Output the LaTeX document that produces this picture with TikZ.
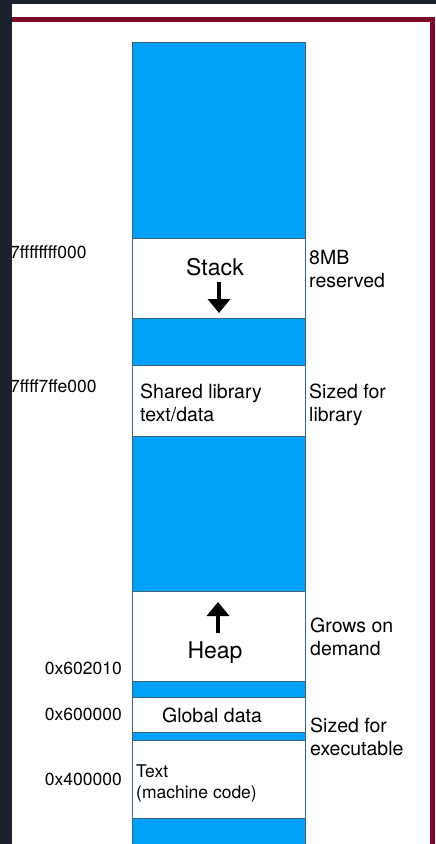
\documentclass[tikz,border=0pt]{standalone}
\usepackage{fontspec}
\setmainfont{TeX Gyre Heros}
\usepackage{tikz}
\usetikzlibrary{arrows.meta,positioning}
\definecolor{memblue}{RGB}{0,161,247}
\definecolor{bandline}{RGB}{62,100,128}
\definecolor{screen}{RGB}{28,33,46}
\definecolor{framered}{RGB}{124,10,38}
\tikzset{
  free/.style={fill=memblue,draw=bandline,line width=.8pt},
  used/.style={fill=white,draw=bandline,line width=.8pt},
  growarrow/.style={line width=4.5pt,-{Triangle[width=22pt,length=14pt]}},
  addr/.style={anchor=base east,inner sep=0pt,font=\fontsize{17.5}{21}\selectfont},
  note/.style={anchor=base west,inner sep=0pt,align=left,font=\fontsize{19.5}{23}\selectfont},
  seg/.style={anchor=base,inner sep=0pt,font=\fontsize{23}{27}\selectfont}
}
\begin{document}
\begin{tikzpicture}[x=1pt,y=-1pt]
      \useasboundingbox (0,0) rectangle (436,844);
      \clip (0,0) rectangle (436,844);
      \fill[screen] (0,0) rectangle (436,844);
      \fill[white] (12,4) rectangle (436,844);
      \draw[framered,line width=5pt] (12,19.5) -- (432.5,19.5) -- (432.5,850);

      \draw[free] (132,42) rectangle (305,238);
      \draw[used] (132,238) rectangle (305,318);
      \draw[free] (132,318) rectangle (305,365);
      \draw[used] (132,365) rectangle (305,436);
      \draw[free] (132,436) rectangle (305,591);
      \draw[used] (132,591) rectangle (305,681);
      \draw[free] (132,681) rectangle (305,697);
      \draw[used] (132,697) rectangle (305,732);
      \draw[free] (132,732) rectangle (305,740);
      \draw[used] (132,740) rectangle (305,818);
      \draw[free] (132,818) rectangle (305,850);

      \node[seg] (stack) at (215,275) {Stack};
      \coordinate (stacktail) at (219,282);
      \coordinate (stackhead) at (219,313);
      \draw[growarrow] (stacktail) -- (stackhead);

      \node[note] (shlib) at (140,421) {Shared library\\text/data};

      \coordinate (heaptail) at (218,633);
      \coordinate (heaphead) at (218,602);
      \draw[growarrow] (heaptail) -- (heaphead);
      \node[seg] (heap) at (215,658) {Heap};

      \node[seg,font=\fontsize{19.5}{23}\selectfont] (global) at (212,722) {Global data};
      \node[note,font=\fontsize{17.5}{21}\selectfont] (textseg) at (136,798) {Text\\(machine code)};

      \node[note] (stacknote) at (309,287) {8MB\\reserved};
      \node[note] (shlibnote) at (309,421) {Sized for\\library};
      \node[note] (heapnote) at (310,655) {Grows on\\demand};
      \node[note] (exenote) at (310,755) {Sized for\\executable};

      \node[addr,anchor=base west] (stackaddr) at (10,258) {7ffffffff000};
      \node[addr,anchor=base west] (shlibaddr) at (10,392) {7ffff7ffe000};
      \node[addr] (brkaddr) at (122,674) {0x602010};
      \node[addr] (dataaddr) at (122,720) {0x600000};
      \node[addr] (textaddr) at (122,785) {0x400000};

      \fill[screen] (0,0) rectangle (12,844);
    \end{tikzpicture}
\end{document}
